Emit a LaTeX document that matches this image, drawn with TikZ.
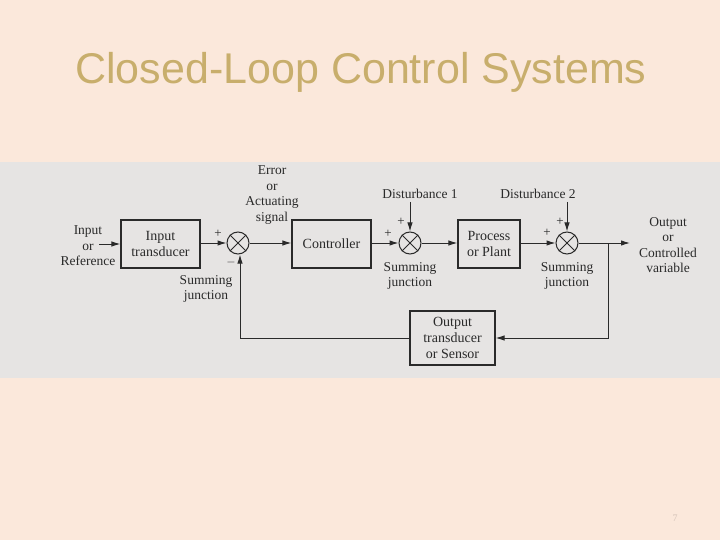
\documentclass[tikz,border=0pt]{standalone}
\usepackage{fontspec}
\setmainfont{Liberation Serif}
\newfontfamily\titlefont{Liberation Sans}
\usetikzlibrary{arrows.meta}
\definecolor{slidebg}{HTML}{FBE8DB}
\definecolor{titlecol}{HTML}{C8AE6C}
\definecolor{scan}{HTML}{E6E4E3}
\definecolor{ink}{HTML}{2A2A2A}
\begin{document}
\begin{tikzpicture}[x=1pt,y=-1pt,
  blk/.style={draw=ink,line width=1.2pt,minimum width=#1,minimum height=48pt,align=center,inner sep=1pt,font=\fontsize{14}{16}\selectfont},
  sum/.style={draw=ink,line width=1pt,circle,minimum size=22pt,inner sep=0pt},
  lbl/.style={align=center,text=ink,font=\fontsize{13.5}{15.5}\selectfont,inner sep=0pt},
  sg/.style={text=ink,font=\fontsize{13}{13}\selectfont,inner sep=0pt},
  wire/.style={draw=ink,line width=1pt},
  arr/.style={wire,-{Latex[length=9pt,width=5.5pt]}}]
\useasboundingbox (0,0) rectangle (720,540);
\fill[slidebg] (0,0) rectangle (720,540);
\fill[scan] (0,162) rectangle (720,378);
\node[text=titlecol,font=\titlefont\fontsize{43}{48}\selectfont] (title) at (361,72) {Closed-Loop Control Systems};
\node[text=slidebg!85!black,font=\fontsize{10}{10}\selectfont] (pg) at (675,518) {7};
% blocks
\node[blk=79pt,text=ink] (it) at (160.5,244) {Input\\transducer};
\node[blk=79pt,text=ink] (ctl) at (331.5,244) {Controller};
\node[blk=62pt,text=ink] (pp) at (489,244) {Process\\or Plant};
\node[blk=85pt,minimum height=54pt,text=ink] (sen) at (452.5,338) {Output\\transducer\\or Sensor};
\node[sum] (s1) at (238,243) {};
\node[sum] (s2) at (410,243) {};
\node[sum] (s3) at (567,243) {};
\foreach \s in {s1,s2,s3}{\draw[ink,line width=0.9pt] (\s.north west)--(\s.south east) (\s.north east)--(\s.south west);}
% labels
\node[lbl] (in) at (88,246) {Input\\or\\Reference};
\node[lbl] (err) at (272,195) {Error\\or\\Actuating\\signal};
\node[lbl] (d1) at (420,194) {Disturbance 1};
\node[lbl] (d2) at (538,194) {Disturbance 2};
\node[lbl] (out) at (668,245) {Output\\or\\Controlled\\variable};
\node[lbl] (sj1) at (206,289) {Summing\\junction};
\node[lbl] (sj2) at (410,276) {Summing\\junction};
\node[lbl] (sj3) at (567,276) {Summing\\junction};
\node[sg] (p1) at (218,234) {+};
\node[sg] (m1) at (231,262) {$-$};
\node[sg] (p2) at (388,234) {+};
\node[sg] (p2b) at (401,222) {+};
\node[sg] (p3) at (547,233) {+};
\node[sg] (p3b) at (560,222) {+};
\coordinate (inL) at (99,244);
\coordinate (d1t) at (410,202);
\coordinate (d2t) at (567,202);
\coordinate (oe) at (630,243);
\coordinate (br) at (608,243);
\coordinate (brd) at (608,338);
\coordinate (fb) at (240,338);
% connectors
\draw[arr] (inL) -- (it.west);
\draw[arr] (it.east |- s1) -- (s1.west);
\draw[arr] (s1.east) -- (ctl.west |- s1);
\draw[arr] (ctl.east |- s2) -- (s2.west);
\draw[arr] (s2.east) -- (pp.west |- s2);
\draw[arr] (pp.east |- s3) -- (s3.west);
\draw[arr] (d1t) -- (s2.north);
\draw[arr] (d2t) -- (s3.north);
\draw[arr] (s3.east) -- (oe);
\draw[arr] (br) -- (brd) -- (sen.east);
\draw[arr] (sen.west) -- (fb) -- (fb |- s1.south);
\end{tikzpicture}
\end{document}
